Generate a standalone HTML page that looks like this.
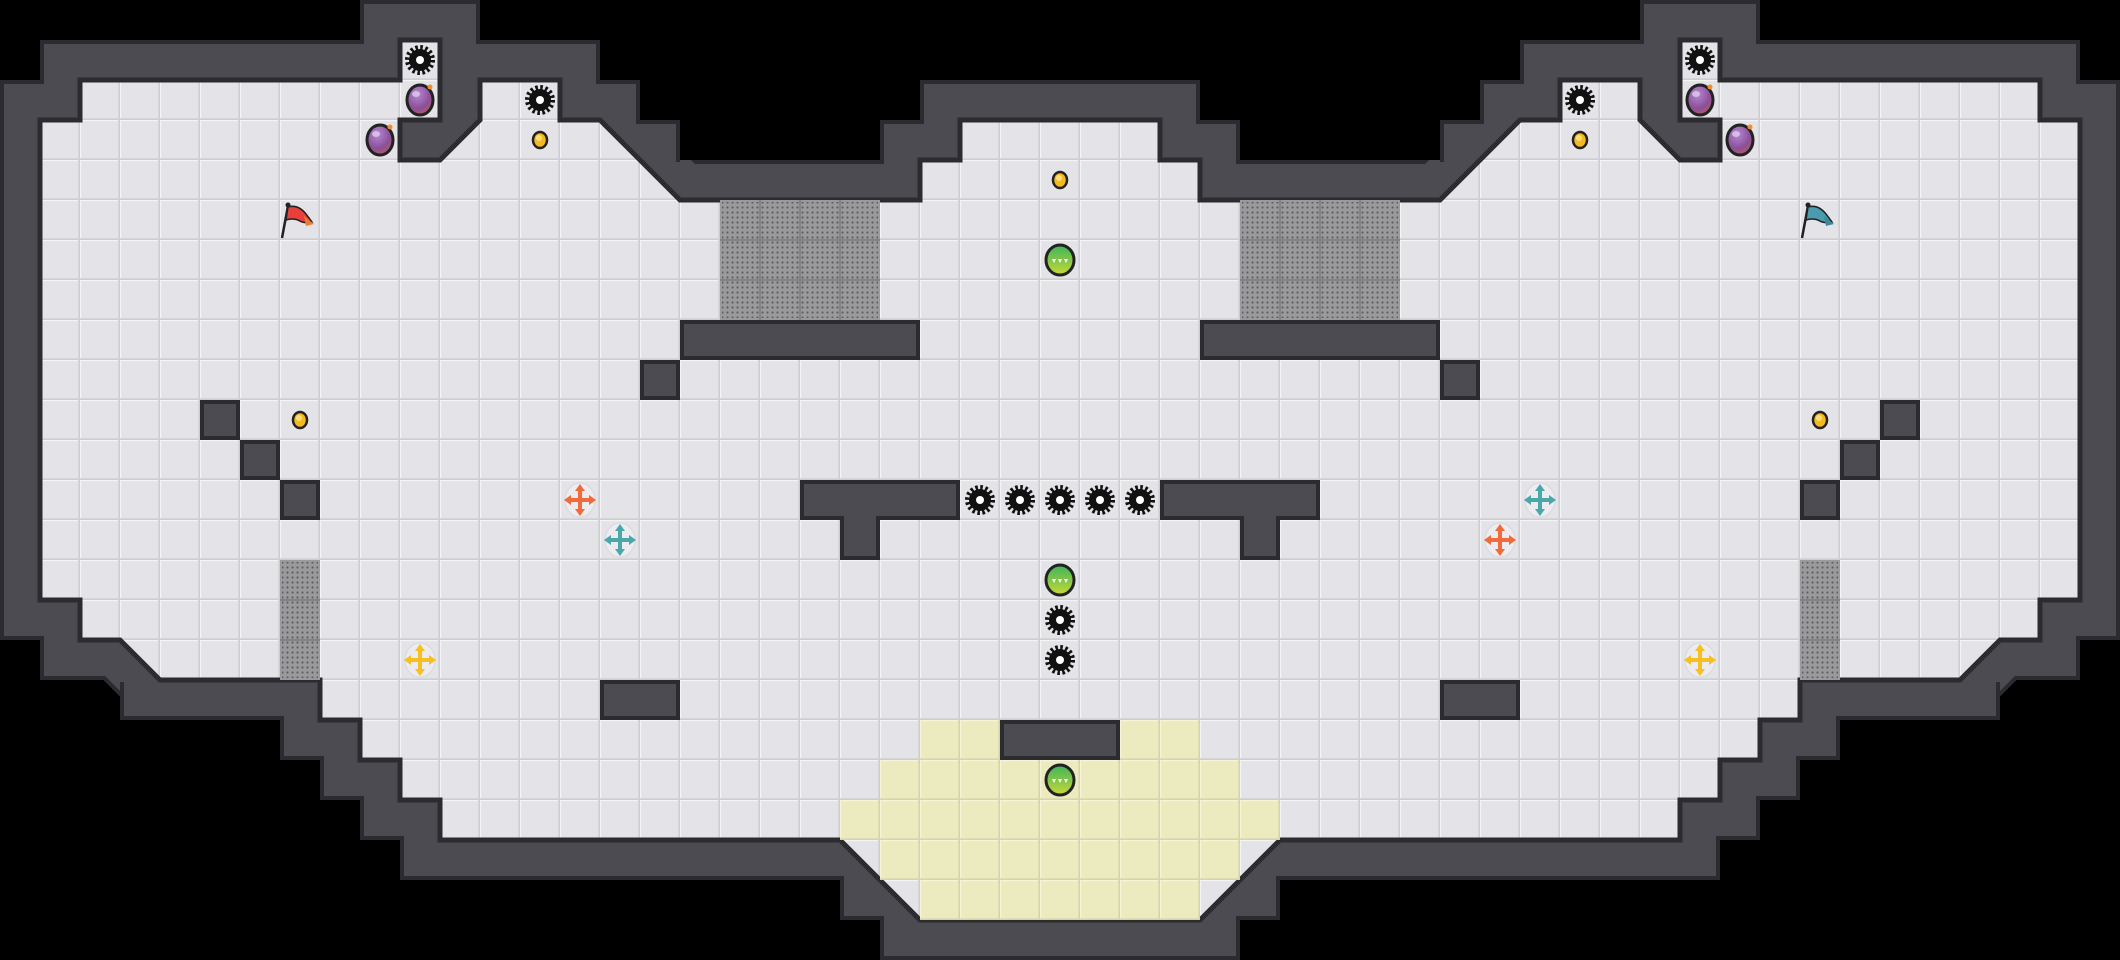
<!DOCTYPE html>
<html><head><meta charset="utf-8"><style>
html,body{margin:0;padding:0;background:#000;}
svg{display:block;}
</style></head><body>
<svg width="2120" height="960" viewBox="0 0 2120 960" xmlns="http://www.w3.org/2000/svg">
<defs>
<pattern id="tile" width="40" height="40" patternUnits="userSpaceOnUse">
<rect width="40" height="40" fill="#e4e4e8"/>
<path d="M0 0.5H40M0.5 0V40" stroke="#f4f4f7" stroke-width="1.2"/>
<path d="M0 39.2H40M39.2 0V40" stroke="#cdcdd2" stroke-width="1.6"/>
</pattern>
<pattern id="ytile" width="40" height="40" patternUnits="userSpaceOnUse">
<rect width="40" height="40" fill="#ecebbf"/>
<path d="M0 0.5H40M0.5 0V40" stroke="#f5f4d6" stroke-width="1.2"/>
<path d="M0 39.2H40M39.2 0V40" stroke="#d6d5a8" stroke-width="1.6"/>
</pattern>
<pattern id="dots" width="5" height="5" patternUnits="userSpaceOnUse">
<circle cx="2.5" cy="2.5" r="1.1" fill="#5e5e62"/>
</pattern>
<g id="spk">
<circle r="12.5" fill="none" stroke="#111" stroke-width="5" stroke-dasharray="2.5 2.4"/>
<circle r="11" fill="#111"/>
<circle r="4" fill="#fff"/>
</g>
<radialGradient id="bombg" cx="0.4" cy="0.3" r="0.8">
<stop offset="0" stop-color="#b58ad0"/><stop offset="0.6" stop-color="#8b4f9c"/><stop offset="1" stop-color="#c0604a"/>
</radialGradient>
<g id="bomb">
<ellipse rx="13" ry="15" fill="url(#bombg)" stroke="#222" stroke-width="3"/>
<ellipse cx="-4" cy="-6" rx="4" ry="3" fill="#e8d6f0" opacity="0.7"/>
<circle cx="10" cy="-13" r="2.5" fill="#f0902a"/>
</g>
<g id="coin">
<ellipse rx="7" ry="8" fill="#f5b820" stroke="#222" stroke-width="2.5"/>
<ellipse cx="-1" cy="-2" rx="3" ry="3" fill="#ffe070"/>
</g>
<linearGradient id="gg" x1="0" y1="0" x2="0" y2="1">
<stop offset="0" stop-color="#3cb45a"/><stop offset="1" stop-color="#c8d838"/>
</linearGradient>
<g id="green">
<ellipse rx="14" ry="15" fill="url(#gg)" stroke="#222" stroke-width="3"/>
<path d="M-8 -1 L-4 -1 L-6 3Z M-2 -1 L2 -1 L0 3Z M4 -1 L8 -1 L6 3Z" fill="#fff"/>
</g>
<g id="arr">
<ellipse rx="15" ry="17" fill="#ececf0" stroke="#d8d8dc" stroke-width="1"/>
<path d="M0 -16 L5 -9 L2 -9 L2 -2 L9 -2 L9 -5 L16 0 L9 5 L9 2 L2 2 L2 9 L5 9 L0 16 L-5 9 L-2 9 L-2 2 L-9 2 L-9 5 L-16 0 L-9 -5 L-9 -2 L-2 -2 L-2 -9 L-5 -9Z"/>
</g>
</defs>

<!-- walls -->
<polygon points="960,120 960,160 920,160 920,200 680,200 600,120 560,120 560,80 480,80 480,120 440,160 400,160 400,120 440,120 440,40 400,40 400,80 80,80 80,120 40,120 40,600 80,600 80,640 120,640 160,680 320,680 320,720 360,720 360,760 400,760 400,800 440,800 440,840 840,840 920,920 1200,920 1280,840 1680,840 1680,800 1720,800 1720,760 1760,760 1760,720 1800,720 1800,680 1960,680 2000,640 2040,640 2040,600 2080,600 2080,120 2040,120 2040,80 1720,80 1720,40 1680,40 1680,120 1720,120 1720,160 1680,160 1640,120 1640,80 1560,80 1560,120 1520,120 1440,200 1200,200 1200,160 1160,160 1160,120" fill="none" stroke="#2c2c30" stroke-width="80" stroke-linejoin="miter" stroke-miterlimit="3"/>
<g fill="#2c2c30">
<rect x="600" y="80" width="40" height="40"/><rect x="640" y="120" width="40" height="40"/>
<rect x="1480" y="80" width="40" height="40"/><rect x="1440" y="120" width="40" height="40"/>
<rect x="120" y="680" width="40" height="40"/><rect x="1960" y="680" width="40" height="40"/>
<rect x="840" y="880" width="40" height="40"/><rect x="880" y="920" width="40" height="40"/>
<rect x="1240" y="880" width="40" height="40"/><rect x="1200" y="920" width="40" height="40"/>
</g>
<polygon points="960,120 960,160 920,160 920,200 680,200 600,120 560,120 560,80 480,80 480,120 440,160 400,160 400,120 440,120 440,40 400,40 400,80 80,80 80,120 40,120 40,600 80,600 80,640 120,640 160,680 320,680 320,720 360,720 360,760 400,760 400,800 440,800 440,840 840,840 920,920 1200,920 1280,840 1680,840 1680,800 1720,800 1720,760 1760,760 1760,720 1800,720 1800,680 1960,680 2000,640 2040,640 2040,600 2080,600 2080,120 2040,120 2040,80 1720,80 1720,40 1680,40 1680,120 1720,120 1720,160 1680,160 1640,120 1640,80 1560,80 1560,120 1520,120 1440,200 1200,200 1200,160 1160,160 1160,120" fill="none" stroke="#4b4b51" stroke-width="72" stroke-linejoin="miter" stroke-miterlimit="3"/>
<g fill="#4b4b51">
<rect x="590" y="84" width="46" height="46"/><rect x="630" y="124" width="46" height="46"/>
<rect x="1484" y="84" width="46" height="46"/><rect x="1444" y="124" width="46" height="46"/>
<rect x="124" y="670" width="46" height="46"/><rect x="1950" y="670" width="46" height="46"/>
<rect x="844" y="870" width="46" height="46"/><rect x="884" y="910" width="46" height="46"/>
<rect x="1230" y="870" width="46" height="46"/><rect x="1190" y="910" width="46" height="46"/>
</g>
<!-- trim diagonal protrusions -->
<g fill="#000">
<rect x="600" y="30" width="100" height="50"/><rect x="640" y="80" width="60" height="40"/><rect x="680" y="120" width="40" height="40"/>
<rect x="1420" y="30" width="100" height="50"/><rect x="1420" y="80" width="60" height="40"/><rect x="1400" y="120" width="40" height="40"/>
<rect x="40" y="720" width="240" height="40"/><rect x="1840" y="720" width="240" height="40"/>
<rect x="800" y="880" width="40" height="40"/><rect x="840" y="920" width="40" height="40"/>
<rect x="1280" y="880" width="40" height="40"/><rect x="1240" y="920" width="40" height="40"/>
</g>
<g fill="none" stroke="#2c2c30" stroke-width="4">
<path d="M598 40V82H638V122H678V162"/>
<path d="M1522 40V82H1482V122H1442V162"/>
<path d="M122 682V718H282V760"/>
<path d="M1998 682V718H1838V760"/>
<path d="M800 878H842V918H882V960"/>
<path d="M1320 878H1278V918H1238V960"/>
</g>
<!-- floor -->
<polygon points="960,120 960,160 920,160 920,200 680,200 600,120 560,120 560,80 480,80 480,120 440,160 400,160 400,120 440,120 440,40 400,40 400,80 80,80 80,120 40,120 40,600 80,600 80,640 120,640 160,680 320,680 320,720 360,720 360,760 400,760 400,800 440,800 440,840 840,840 920,920 1200,920 1280,840 1680,840 1680,800 1720,800 1720,760 1760,760 1760,720 1800,720 1800,680 1960,680 2000,640 2040,640 2040,600 2080,600 2080,120 2040,120 2040,80 1720,80 1720,40 1680,40 1680,120 1720,120 1720,160 1680,160 1640,120 1640,80 1560,80 1560,120 1520,120 1440,200 1200,200 1200,160 1160,160 1160,120" fill="url(#tile)" stroke="#2c2c30" stroke-width="5" stroke-linejoin="miter"/>

<!-- yellow -->
<g fill="url(#ytile)">
<rect x="920" y="720" width="80" height="40"/><rect x="1120" y="720" width="80" height="40"/>
<rect x="880" y="760" width="360" height="40"/>
<rect x="840" y="800" width="440" height="40"/>
<rect x="880" y="840" width="360" height="40"/>
<rect x="920" y="880" width="280" height="40"/>
</g>

<!-- grates -->
<g>
<rect x="720" y="200" width="160" height="120" fill="#9a9a9c"/>
<rect x="1240" y="200" width="160" height="120" fill="#9a9a9c"/>
<rect x="280" y="560" width="40" height="120" fill="#9a9a9c"/>
<rect x="1800" y="560" width="40" height="120" fill="#9a9a9c"/>
<g fill="url(#dots)">
<rect x="722" y="202" width="156" height="116"/>
<rect x="1242" y="202" width="156" height="116"/>
<rect x="282" y="562" width="36" height="116"/>
<rect x="1802" y="562" width="36" height="116"/>
</g>
<g fill="none" stroke="#838387" stroke-width="2">
<path d="M760 200V320M800 200V320M840 200V320M720 240H880M720 280H880"/>
<path d="M1280 200V320M1320 200V320M1360 200V320M1240 240H1400M1240 280H1400"/>
<path d="M280 600H320M280 640H320M1800 600H1840M1800 640H1840"/>
</g>
</g>

<!-- obstacles -->
<g fill="#4b4b51" stroke="#2c2c30" stroke-width="4">
<rect x="682" y="322" width="236" height="36"/>
<rect x="1202" y="322" width="236" height="36"/>
<rect x="642" y="362" width="36" height="36"/>
<rect x="1442" y="362" width="36" height="36"/>
<rect x="202" y="402" width="36" height="36"/>
<rect x="242" y="442" width="36" height="36"/>
<rect x="282" y="482" width="36" height="36"/>
<rect x="1882" y="402" width="36" height="36"/>
<rect x="1842" y="442" width="36" height="36"/>
<rect x="1802" y="482" width="36" height="36"/>
<path d="M802 482H958V518H878V558H842V518H802Z"/>
<path d="M1162 482H1318V518H1278V558H1242V518H1162Z"/>
<rect x="602" y="682" width="76" height="36"/>
<rect x="1442" y="682" width="76" height="36"/>
<rect x="1002" y="722" width="116" height="36"/>
</g>

<!-- spikes -->
<use href="#spk" x="420" y="60"/><use href="#spk" x="540" y="100"/>
<use href="#spk" x="1700" y="60"/><use href="#spk" x="1580" y="100"/>
<use href="#spk" x="980" y="500"/><use href="#spk" x="1020" y="500"/><use href="#spk" x="1060" y="500"/><use href="#spk" x="1100" y="500"/><use href="#spk" x="1140" y="500"/>
<use href="#spk" x="1060" y="620"/><use href="#spk" x="1060" y="660"/>

<!-- bombs -->
<use href="#bomb" x="420" y="100"/><use href="#bomb" x="380" y="140"/>
<use href="#bomb" x="1700" y="100"/><use href="#bomb" x="1740" y="140"/>

<!-- coins -->
<use href="#coin" x="540" y="140"/><use href="#coin" x="300" y="420"/><use href="#coin" x="1060" y="180"/>
<use href="#coin" x="1580" y="140"/><use href="#coin" x="1820" y="420"/>

<!-- green -->
<use href="#green" x="1060" y="260"/><use href="#green" x="1060" y="580"/><use href="#green" x="1060" y="780"/>

<!-- flags -->
<g transform="translate(300,220)">
<line x1="-18" y1="18" x2="-12" y2="-14" stroke="#222" stroke-width="2.5"/>
<circle cx="-12" cy="-15" r="2.5" fill="#222"/>
<path d="M-12 -13 Q-2 -16 6 -6 L12 2 Q4 4 -2 0 Q-8 -2 -14 0Z" fill="#e8403a" stroke="#222" stroke-width="1.5"/>
<path d="M4 -4 L14 4 L6 6Z" fill="#f07a30"/>
</g>
<g transform="translate(1820,220)">
<line x1="-18" y1="18" x2="-12" y2="-14" stroke="#222" stroke-width="2.5"/>
<circle cx="-12" cy="-15" r="2.5" fill="#222"/>
<path d="M-12 -13 Q-2 -16 6 -6 L12 2 Q4 4 -2 0 Q-8 -2 -14 0Z" fill="#4a9ab0" stroke="#222" stroke-width="1.5"/>
<path d="M4 -4 L14 4 L6 6Z" fill="#3a8a9e"/>
</g>

<!-- arrows -->
<use href="#arr" x="580" y="500" fill="#f06a3a"/>
<use href="#arr" x="620" y="540" fill="#4aa8a8"/>
<use href="#arr" x="420" y="660" fill="#f5c020"/>
<use href="#arr" x="1540" y="500" fill="#4aa8a8"/>
<use href="#arr" x="1500" y="540" fill="#f06a3a"/>
<use href="#arr" x="1700" y="660" fill="#f5c020"/>
</svg>
</body></html>
